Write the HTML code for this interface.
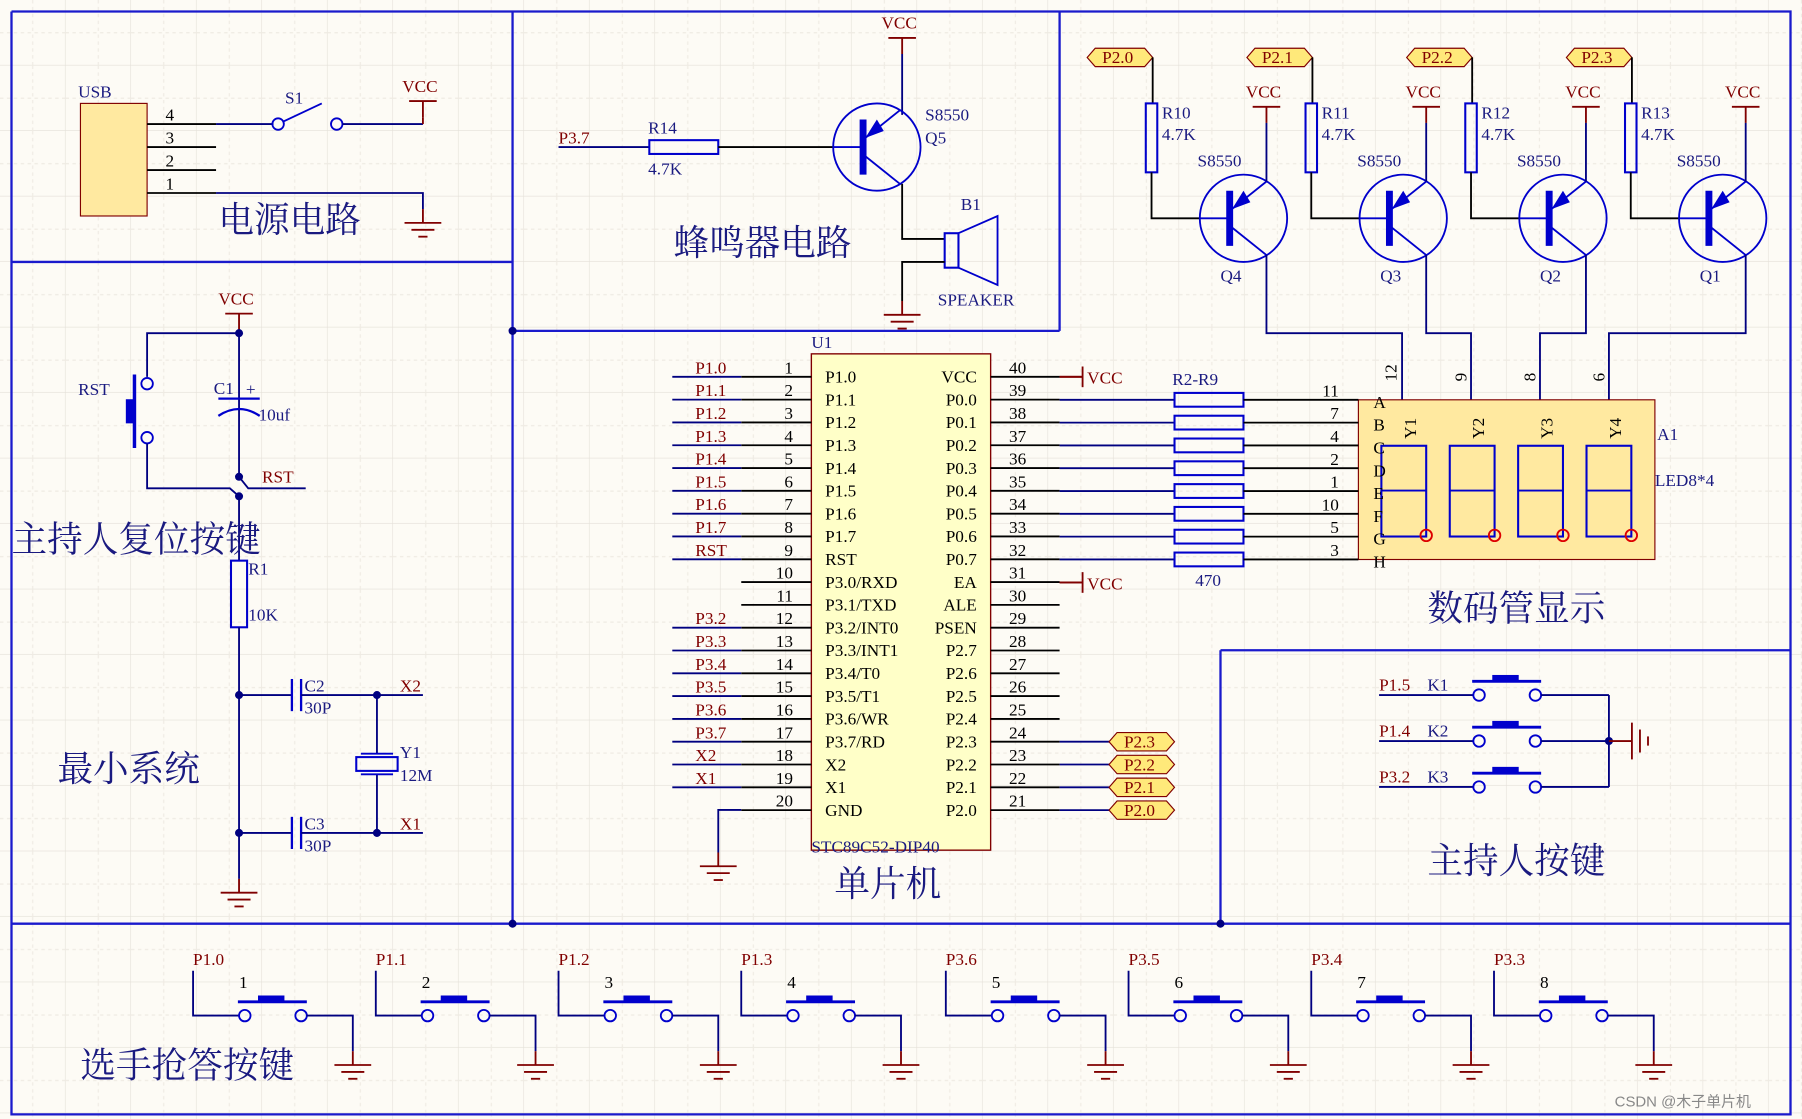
<!DOCTYPE html>
<html><head><meta charset="utf-8">
<style>
html,body{margin:0;padding:0;background:#fdfbf5;}
svg{display:block}
text{font-family:"Liberation Serif","Noto Serif CJK SC",serif;}
.cn{font-family:"Liberation Serif","Noto Serif CJK SC",serif;font-size:31px;fill:#1a1a80}
.t{font-size:15px;fill:#000}
.nb{font-size:15px;fill:#1a1a80}
.rd{font-size:15px;fill:#800000}
</style></head><body>
<svg id="s" width="1802" height="1119" viewBox="0 0 1568 974" preserveAspectRatio="none" xmlns="http://www.w3.org/2000/svg">
<defs>
<pattern id="g" width="57" height="57" patternUnits="userSpaceOnUse">
<path d="M57 0V57M0 57H57" stroke="#e4e0d8" stroke-width="1" fill="none"/>
<path d="M28.5 0V57M0 28.5H57" stroke="#efebe3" stroke-width="1" stroke-dasharray="3 3" fill="none"/>
</pattern>
</defs>
<rect width="1568" height="974" fill="#fdfbf5"/>
<rect width="1568" height="974" fill="url(#g)"/>
<g id="root" fill="none" stroke-width="1.6"></g>
</svg>
<script>
const R=document.getElementById('root');let h='';
const L=(pts,c='#000080',w=1.6)=>{h+=`<polyline points="${pts}" stroke="${c}" stroke-width="${w}" fill="none"/>`};
const T=(x,y,s,cls='t',extra='')=>{h+=`<text x="${x}" y="${y}" class="${cls}" stroke="none" ${extra}>${s}</text>`};
const C=(x,y,r,c='#0000cc',f='none')=>{h+=`<circle cx="${x}" cy="${y}" r="${r}" stroke="${c}" fill="${f}" stroke-width="1.6"/>`};
const Rc=(x,y,w,hh,c='#0000cc',f='none',sw=1.8)=>{h+=`<rect x="${x}" y="${y}" width="${w}" height="${hh}" stroke="${c}" fill="${f}" stroke-width="${sw}"/>`};
const dot=(x,y)=>{h+=`<circle cx="${x}" cy="${y}" r="3.5" fill="#000080" stroke="none"/>`};
const B='#1a1acc',K='#000',M='#800000',N='#000080';
function gnd(x,y){L(`${x},${y} ${x},${y+12}`,M);L(`${x-16},${y+12} ${x+16},${y+12}`,M);L(`${x-10},${y+18} ${x+10},${y+18}`,M);L(`${x-4},${y+24} ${x+4},${y+24}`,M);}
function vcc(x,y){T(x-18,y,'VCC','rd');L(`${x-12},${y+8} ${x+12},${y+8}`,M);L(`${x},${y+8} ${x},${y+22}`,M);}
function vccR(x,y){L(`${x-20},${y} ${x},${y}`,M);L(`${x},${y-9} ${x},${y+9}`,M);T(x+4,y+6,'VCC','rd');}
function pnp(cx,cy){C(cx,cy,38);L(`${cx-38},${cy} ${cx-12},${cy}`,'#0000cc');L(`${cx-12},${cy-24} ${cx-12},${cy+24}`,'#0000cc',6);
L(`${cx-10},${cy-8} ${cx+20},${cy-32}`,'#0000cc');L(`${cx-10},${cy+8} ${cx+20},${cy+32}`,'#0000cc');
h+=`<polygon points="${cx-10},${cy-8} ${cx},${cy-24} ${cx+6},${cy-14}" fill="#0000cc" stroke="none"/>`;}
function tag(x,y,s){h+=`<polygon points="${x},${y} ${x+7},${y-8} ${x+50},${y-8} ${x+57},${y} ${x+50},${y+8} ${x+7},${y+8}" fill="#ffe97a" stroke="#800000" stroke-width="1"/>`;T(x+13,y+5,s,'rd');}
// frame
L('10,10 1558,10 1558,970 10,970 10,10',B,2);
L('10,228 446,228',B,2);L('446,10 446,804',B,2);L('446,288 922,288',B,2);L('922,10 922,288',B,2);
L('10,804 1558,804',B,2);L('1062,566 1062,804',B,2);L('1062,566 1558,566',B,2);
dot(446,288);dot(446,804);dot(1062,804);
// power
Rc(70,90,58,98,'#800000','#ffe9a0',1);T(68,85,'USB','nb');
[[108,'4'],[128,'3'],[148,'2'],[168,'1']].forEach(([y,n])=>{L(`128,${y} 188,${y}`,K);T(144,y-3,n,'t');});
L('188,108 238,108',N);C(242,108,5);C(293,108,5);L('246,106 280,90','#0000cc');T(248,90,'S1','nb');
L('298,108 368,108',N);vcc(368,80);L('368,102 368,108',M);
L('188,168 368,168 368,182',N);gnd(368,182);
T(190,202,'电源电路','cn');
// buzzer
vcc(785,25);L('785,47 785,100',N);
T(486,125,'P3.7','rd');L('486,128 565,128',N);Rc(565,122,60,12);T(564,116,'R14','nb');T(564,152,'4.7K','nb');L('625,128 725,128',K);
pnp(763,128);T(805,105,'S8550','nb');T(805,125,'Q5','nb');
L('785,160 785,208 822,208',K);Rc(822,203,12,30);h+=`<polygon points="834,203 868,188 868,248 834,233" fill="none" stroke="#0000cc" stroke-width="1.6"/>`;
T(836,183,'B1','nb');T(816,266,'SPEAKER','nb');L('822,228 785,228 785,262',K);gnd(785,262);
T(586,222,'蜂鸣器电路','cn');
// drivers
const dn=[['P2.0','R10','Q4'],['P2.1','R11','Q3'],['P2.2','R12','Q2'],['P2.3','R13','Q1']];
const dests=[1220,1280,1340,1400];
dn.forEach((d,i)=>{const o=i*139;tag(946+o,50,d[0]);L(`${1003+o},50 ${1003+o},90`,K);Rc(997+o,90,10,60);
T(1011+o,103,d[1],'nb');T(1011+o,122,'4.7K','nb');L(`${1002+o},150 ${1002+o},190 ${1044+o},190`,K);
pnp(1082+o,190);T(1042+o,145,'S8550','nb');T(1062+o,245,d[2],'nb');vcc(1102+o,85);L(`${1102+o},107 ${1102+o},158`,N);
const cx=1102+o;L(`${cx},222 ${cx},290 ${dests[i]},290 ${dests[i]},348`,N);});
T(1215,332,'12','t','transform="rotate(-90 1215 332)"');T(1276,332,'9','t','transform="rotate(-90 1276 332)"');
T(1336,332,'8','t','transform="rotate(-90 1336 332)"');T(1396,332,'6','t','transform="rotate(-90 1396 332)"');
// MCU
Rc(706,308,156,432,'#800000','#ffffc8',1.2);T(706,303,'U1','nb');T(706,742,'STC89C52-DIP40','nb');T(726,780,'单片机','cn');
const ln=['P1.0','P1.1','P1.2','P1.3','P1.4','P1.5','P1.6','P1.7','RST','P3.0/RXD','P3.1/TXD','P3.2/INT0','P3.3/INT1','P3.4/T0','P3.5/T1','P3.6/WR','P3.7/RD','X2','X1','GND'];
const rn=['VCC','P0.0','P0.1','P0.2','P0.3','P0.4','P0.5','P0.6','P0.7','EA','ALE','PSEN','P2.7','P2.6','P2.5','P2.4','P2.3','P2.2','P2.1','P2.0'];
const ll=['P1.0','P1.1','P1.2','P1.3','P1.4','P1.5','P1.6','P1.7','RST','','','P3.2','P3.3','P3.4','P3.5','P3.6','P3.7','X2','X1',''];
for(let i=0;i<20;i++){const y=328+i*19.85;
L(`645,${y} 706,${y}`,K);T(690,y-3,String(i+1),'t','text-anchor="end"');T(718,y+5,ln[i],'t');
T(850,y+5,rn[i],'t','text-anchor="end"');L(`862,${y} 922,${y}`,K);T(878,y-3,String(40-i),'t');
if(ll[i]){L(`585,${y} 645,${y}`,N);T(605,y-3,ll[i],'rd');}}
L('645,705 625,705 625,742',N);gnd(625,742);
vccR(942,328);L('922,328 942,328',M);vccR(942,507);L('922,507 942,507',M);
// display box first
Rc(1182,348,258,139,'#800000','#ffe9a0',1);T(1442,383,'A1','nb');T(1440,423,'LED8*4','nb');
const an=['11','7','4','2','1','10','5','3'];
for(let i=0;i<8;i++){const y=348+i*19.85;L(`922,${y} 1022,${y}`,N);Rc(1022,y-6,60,12);L(`1082,${y} 1182,${y}`,K);T(1165,y-3,an[i],'t','text-anchor="end"');}
['Y1','Y2','Y3','Y4'].forEach((s,i)=>{const x=1202+i*59.5;Rc(x,388,39,79);L(`${x},427 ${x+39},427`,'#0000cc');C(x+39,466,5,'#dd0000');T(x+30,382,s,'t','transform="rotate(-90 '+(x+30)+' 382)"');});
for(let i=0;i<8;i++){const y=348+i*19.85;T(1195,y+7,'ABCDEFGH'[i],'t');}
T(1020,335,'R2-R9','nb');T(1040,510,'470','nb');
[[23,'P2.3'],[24,'P2.2'],[25,'P2.1'],[26,'P2.0']].forEach(([k,s],j)=>{const y=328+(16+j)*19.85;L(`922,${y} 965,${y}`,N);tag(965,y,s);});
T(1242,540,'数码管显示','cn');
// reset / min system
vcc(208,265);L('208,287 208,415',N);dot(208,290);L('208,290 128,290 128,328',N);C(128,334,5);C(128,381,5);L('117,326 117,390','#0000cc',3);Rc(110,348,7,20,'#0000cc','#0000cc',1);
L('128,386 128,425 200,425 208,432',N);T(68,344,'RST','nb');
L('190,347 226,347','#0000cc',2);h+=`<path d="M190,362 Q208,350 226,362" stroke="#0000cc" stroke-width="2" fill="none"/>`;T(186,343,'C1','nb');T(214,344,'+','nb','font-size="10"');T(225,366,'10uf','nb');
dot(208,415);dot(208,432);L('208,415 216,425 266,425',N);T(228,420,'RST','rd');
L('208,432 208,488',N);Rc(201,488,14,58);T(216,500,'R1','nb');T(216,540,'10K','nb');
T(10,480,'主持人复位按键','cn');
L('208,546 208,725',N);dot(208,605);dot(208,725);
[[605,'C2','X2'],[725,'C3','X1']].forEach(([y,c,x])=>{L(`208,${y} 254,${y}`,N);L(`254,${y-14} 254,${y+14}`,'#0000cc',2);L(`262,${y-14} 262,${y+14}`,'#0000cc',2);L(`262,${y} 368,${y}`,N);dot(328,y);T(265,y-3,c,'nb');T(265,y+16,'30P','nb');T(348,y-3,x,'rd');});
L('328,605 328,656',N);L('328,674 328,725',N);L('314,656 342,656','#0000cc');L('314,674 342,674','#0000cc');Rc(310,659,36,12);T(348,660,'Y1','nb');T(348,680,'12M','nb');
L('208,725 208,765',N);gnd(208,765);
T(50,680,'最小系统','cn');
// host keys
[[605,'P1.5','K1'],[645,'P1.4','K2'],[685,'P3.2','K3']].forEach(([y,p,k])=>{T(1200,y-4,p,'rd');T(1242,y-4,k,'nb');L(`1200,${y} 1282,${y}`,N);C(1287,y,5);C(1336,y,5);
L(`1281,${y-12} 1341,${y-12}`,'#0000cc',2.5);Rc(1299,y-17,22,5,'#0000cc','#0000cc',1);L(`1341,${y} 1400,${y}`,N);});
L('1400,605 1400,685',N);dot(1400,645);L('1400,645 1420,645',M);L('1420,629 1420,661',M);L('1427,635 1427,655',M);L('1434,641 1434,649',M);
T(1242,760,'主持人按键','cn');
// players
const pl=['P1.0','P1.1','P1.2','P1.3','P3.6','P3.5','P3.4','P3.3'];
const px=[0,159,318,477,655,814,973,1132];
pl.forEach((p,i)=>{const o=px[i];T(168+o,840,p,'rd');T(208+o,860,String(i+1),'t');L(`${168+o},845 ${168+o},884 ${208+o},884`,N);
C(213+o,884,5);C(262+o,884,5);L(`${207+o},872 ${267+o},872`,'#0000cc',2.5);Rc(225+o,867,22,5,'#0000cc','#0000cc',1);
L(`${267+o},884 ${307+o},884 ${307+o},915`,N);gnd(307+o,915);});
T(70,938,'选手抢答按键','cn');
T(1405,963,'CSDN @木子单片机','t','style="font-size:13px;fill:#888;font-family:Liberation Sans,Noto Sans CJK SC,sans-serif"');
R.innerHTML=h;
</script>
</body></html>
